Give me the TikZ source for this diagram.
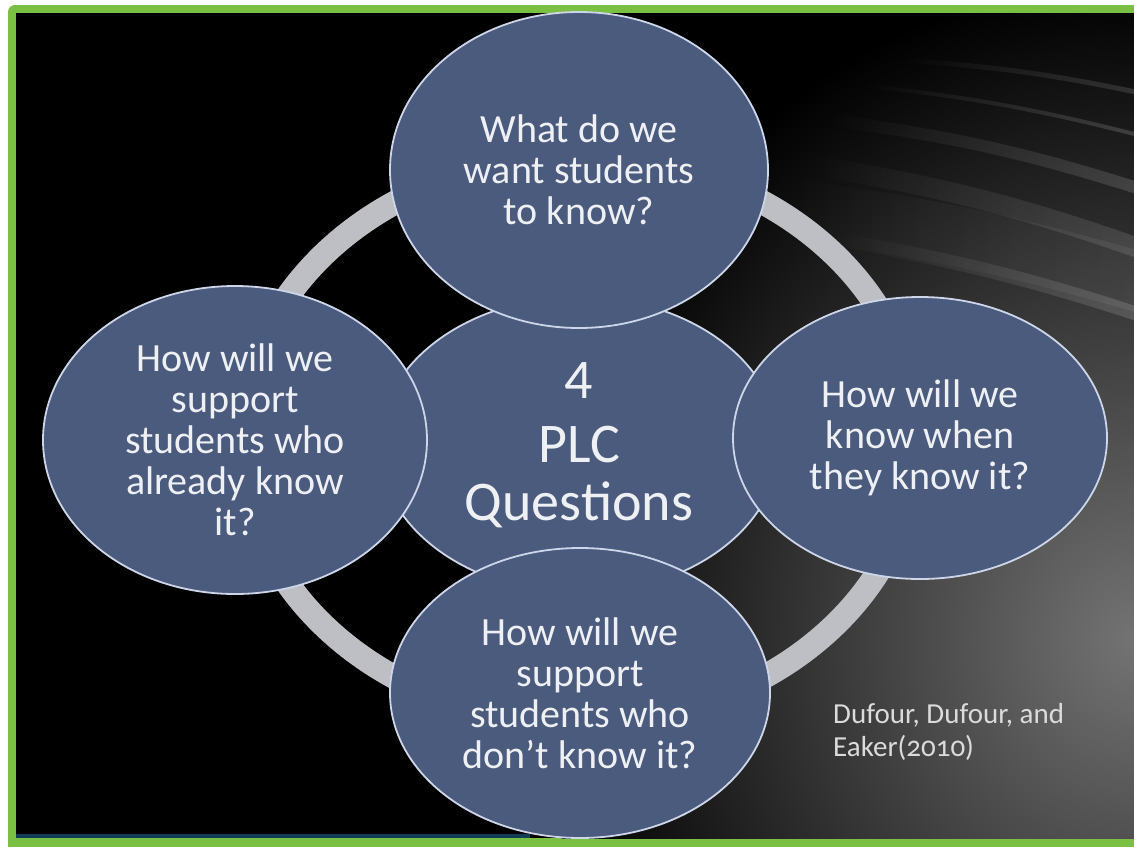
\documentclass[tikz,border=0pt]{standalone}
\usepackage{fontspec}
\setmainfont{Carlito}
\usepackage{tikz}
\usetikzlibrary{shapes.geometric, fadings}
\definecolor{plcgreen}{RGB}{122,193,67}
\definecolor{plcblue}{RGB}{74,91,126}
\definecolor{plcrim}{RGB}{205,214,232}
\definecolor{plcring}{RGB}{190,191,196}
\definecolor{plcgray}{RGB}{115,115,115}
\definecolor{plcteal}{RGB}{16,62,84}
\definecolor{plctext}{RGB}{238,240,244}

\begin{document}
\begin{tikzpicture}[x=1pt,y=-1pt,
  question/.style = {ellipse, draw=plcrim, line width=1.8pt,
                     fill=plcblue, text=plctext, align=center,
                     inner sep=0pt, font=\fontsize{40}{41}\selectfont},
  streak/.style   = {draw=white, line cap=butt, opacity=#1, path fading=west}
  ]
  \useasboundingbox (0,0) rectangle (1134,846);
  \fill[white] (0,0) rectangle (1134,846);
  \fill[plcgreen, rounded corners=7pt] (8,5) rectangle (1160,870);
  \fill[black] (16,13) rectangle (1150,838);
  % grey sweep on the right
  \begin{scope}
    \clip (16,13) rectangle (1150,838);
    \shade[inner color=plcgray, outer color=black] (1134,640) ellipse [x radius=600, y radius=660];
    \draw[streak=.14, line width=5pt]  (900,60)  to[bend left=4] (1150,95);
    \draw[streak=.17, line width=4pt]  (860,85)  to[bend left=4] (1150,138);
    \draw[streak=.15, line width=12pt] (830,120) to[bend left=5] (1150,192);
    \draw[streak=.13, line width=20pt] (810,165) to[bend left=5] (1150,252);
    \draw[streak=.16, line width=14pt] (840,240) to[bend left=4] (1150,318);
    \draw[streak=.07, line width=60pt] (800,210) to[bend left=4] (1150,285);
  \end{scope}
  \fill[plcteal] (16,834) rectangle (530,838);
  % ring behind the questions
  \draw[plcring, line width=24pt] (579,440) ellipse [x radius=338, y radius=283];
  \node[question, minimum width=400pt, minimum height=296pt,
        font=\fontsize{56}{58}\selectfont] (plc) at (579,445) {4\\[6pt]PLC\\Questions};
  \node[question, minimum width=378pt, minimum height=316pt] (want) at (579,170)
    {What do we\\want students\\to know?};
  \node[question, minimum width=374pt, minimum height=282pt] (knowit) at (920,438)
    {How will we\\know when\\they know it?};
  \node[question, minimum width=380pt, minimum height=290pt] (dontknow) at (580,693)
    {How will we\\support\\students who\\don’t know it?};
  \node[question, minimum width=384pt, minimum height=308pt] (already) at (235,440)
    {How will we\\support\\students who\\already know\\it?};
  \node[anchor=north west, inner sep=0pt, align=left, text=white!86!black,
        font=\fontsize{29}{33}\selectfont] (cite) at (833,703)
    {Dufour, Dufour, and\\Eaker({\addfontfeatures{Numbers=OldStyle}2010})};
\end{tikzpicture}
\end{document}
